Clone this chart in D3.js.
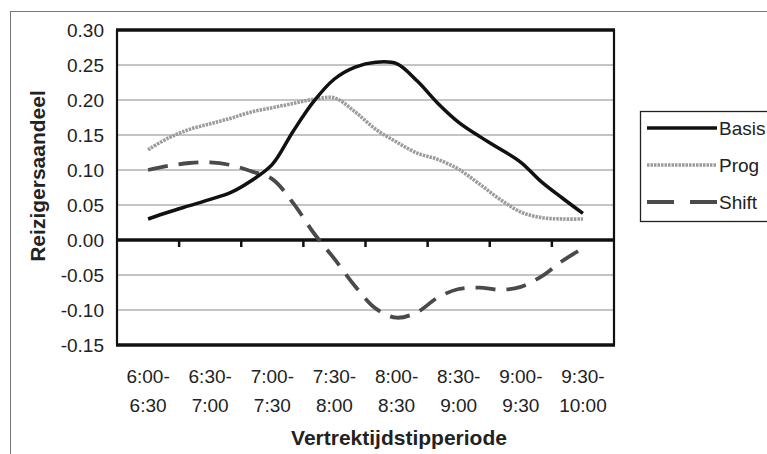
<!DOCTYPE html>
<html>
<head>
<meta charset="utf-8">
<script src="https://cdn.jsdelivr.net/npm/d3@7/dist/d3.min.js"></script>
<style>
  body { margin: 0; background: #fff; }
  svg { display: block; font-family: "Liberation Sans", Arial, sans-serif; }
</style>
</head>
<body>
<svg id="chart" width="767" height="454"></svg>
<script>
// 30-minute windows, shifted every 10 minutes
const periods = ["6:00-6:30","6:10-6:40","6:20-6:50","6:30-7:00","6:40-7:10","6:50-7:20",
  "7:00-7:30","7:10-7:40","7:20-7:50","7:30-8:00","7:40-8:10","7:50-8:20",
  "8:00-8:30","8:10-8:40","8:20-8:50","8:30-9:00","8:40-9:10","8:50-9:20",
  "9:00-9:30","9:10-9:40","9:20-9:50","9:30-10:00"];
const labelledPeriods = ["6:00-6:30","6:30-7:00","7:00-7:30","7:30-8:00","8:00-8:30","8:30-9:00","9:00-9:30","9:30-10:00"];
const basis = [0.030,0.040,0.049,0.058,0.068,0.085,0.108,0.155,0.198,0.230,0.247,0.254,
  0.252,0.227,0.195,0.168,0.148,0.130,0.111,0.083,0.060,0.038];
const prog = [0.129,0.146,0.158,0.166,0.174,0.183,0.189,0.195,0.201,0.203,0.183,0.158,
  0.140,0.124,0.115,0.101,0.080,0.058,0.040,0.032,0.030,0.030];
const shift = [0.100,0.106,0.110,0.111,0.107,0.098,0.087,0.053,0.010,-0.027,-0.066,-0.098,
  -0.111,-0.103,-0.082,-0.070,-0.068,-0.071,-0.067,-0.052,-0.030,-0.012];
const yTicks = [0.30,0.25,0.20,0.15,0.10,0.05,0.00,-0.05,-0.10,-0.15];
const seriesNames = ["Basis","Prog","Shift"];

const svg = d3.select("#chart");
const L = 117, R = 614, T = 30, B = 345;

const x = d3.scalePoint().domain(periods).range([L, R]).padding(1.5);
const y = d3.scaleLinear().domain([-0.15, 0.30]).range([B, T]);
const step = x.step();

// outer chart frame
svg.append("rect").attr("x", 10.5).attr("y", 11.5).attr("width", 800).attr("height", 500)
  .attr("fill", "none").attr("stroke", "#777").attr("stroke-width", 1);

// gridlines
svg.append("g").selectAll("line").data(yTicks.filter(v => v < 0.29 && v > -0.14 && Math.abs(v) > 1e-9))
  .join("line")
  .attr("x1", L).attr("x2", R)
  .attr("y1", d => y(d)).attr("y2", d => y(d))
  .attr("stroke", "#8a8a8a").attr("stroke-width", 1);

// y axis labels
const yAxis = d3.axisLeft(y).tickValues(yTicks).tickFormat(d3.format(".2f")).tickSize(0).tickPadding(13);
const gy = svg.append("g").attr("transform", `translate(${L},0)`).call(yAxis);
gy.select(".domain").remove();
gy.selectAll("text").attr("font-size", 19).attr("fill", "#222")
  .attr("font-family", "Liberation Sans, Arial, sans-serif")
  .text(d => d3.format(".2f")(d).replace("−", "-"));

// plot frame
svg.append("line").attr("x1", L).attr("x2", L).attr("y1", T).attr("y2", B).attr("stroke", "#111").attr("stroke-width", 2.2);
svg.append("line").attr("x1", R).attr("x2", R).attr("y1", T).attr("y2", B).attr("stroke", "#111").attr("stroke-width", 2.2);
svg.append("line").attr("x1", L - 1).attr("x2", R + 1).attr("y1", T).attr("y2", T).attr("stroke", "#111").attr("stroke-width", 3.5);
svg.append("line").attr("x1", L - 1).attr("x2", R + 1).attr("y1", B).attr("y2", B).attr("stroke", "#111").attr("stroke-width", 3.5);
// zero line (category axis)
svg.append("line").attr("x1", L).attr("x2", R).attr("y1", y(0)).attr("y2", y(0)).attr("stroke", "#111").attr("stroke-width", 3.5);

// category tick marks between label groups
const tickPos = labelledPeriods.slice(0, -1).map(p => x(p) + step * 1.5);
svg.append("g").selectAll("line").data(tickPos).join("line")
  .attr("x1", d => d).attr("x2", d => d)
  .attr("y1", y(0)).attr("y2", y(0) + 7)
  .attr("stroke", "#111").attr("stroke-width", 2.5);

// x labels (two lines)
const xl = svg.append("g").selectAll("text").data(labelledPeriods).join("text")
  .attr("text-anchor", "middle").attr("font-size", 19).attr("fill", "#222");
xl.append("tspan").attr("x", d => x(d)).attr("y", 383).text(d => d.split("-")[0] + "-");
xl.append("tspan").attr("x", d => x(d)).attr("y", 412).text(d => d.split("-")[1]);

// axis titles
svg.append("text").attr("x", 399).attr("y", 445).attr("text-anchor", "middle")
  .attr("font-size", 21).attr("font-weight", "bold").attr("fill", "#222").text("Vertrektijdstipperiode");
svg.append("text").attr("transform", "translate(44.5,176) rotate(-90)").attr("text-anchor", "middle")
  .attr("font-size", 21).attr("font-weight", "bold").attr("fill", "#222").text("Reizigersaandeel");

// lines
const styles = {
  Basis: { stroke: "#111", width: 3.5, dash: null },
  Prog: { stroke: "#9c9c9c", width: 3.6, dash: "2.5,1" },
  Shift: { stroke: "#4a4a4a", width: 3.8, dash: "20,11" }
};
const data = { Basis: basis, Prog: prog, Shift: shift };
const line = d3.line().x((d, i) => x(periods[i])).y(d => y(d)).curve(d3.curveCatmullRom.alpha(0.5));
["Prog", "Shift", "Basis"].forEach(name => {
  svg.append("path").datum(data[name]).attr("d", line)
    .attr("fill", "none").attr("stroke", styles[name].stroke)
    .attr("stroke-width", styles[name].width)
    .attr("stroke-dasharray", styles[name].dash)
    .attr("stroke-linejoin", "round");
});

// legend
svg.append("rect").attr("x", 640.5).attr("y", 111.5).attr("width", 200).attr("height", 110)
  .attr("fill", "#fff").attr("stroke", "#222").attr("stroke-width", 1.3);
const ly = d3.scalePoint().domain(seriesNames).range([128, 202]);
seriesNames.forEach(name => {
  svg.append("line").attr("x1", 647).attr("x2", 717).attr("y1", ly(name)).attr("y2", ly(name))
    .attr("stroke", styles[name].stroke).attr("stroke-width", styles[name].width)
    .attr("stroke-dasharray", name === "Shift" ? "27,16" : styles[name].dash);
  svg.append("text").attr("x", 719).attr("y", ly(name) + 7).attr("font-size", 19)
    .attr("fill", "#222").text(name);
});
</script>
</body>
</html>
